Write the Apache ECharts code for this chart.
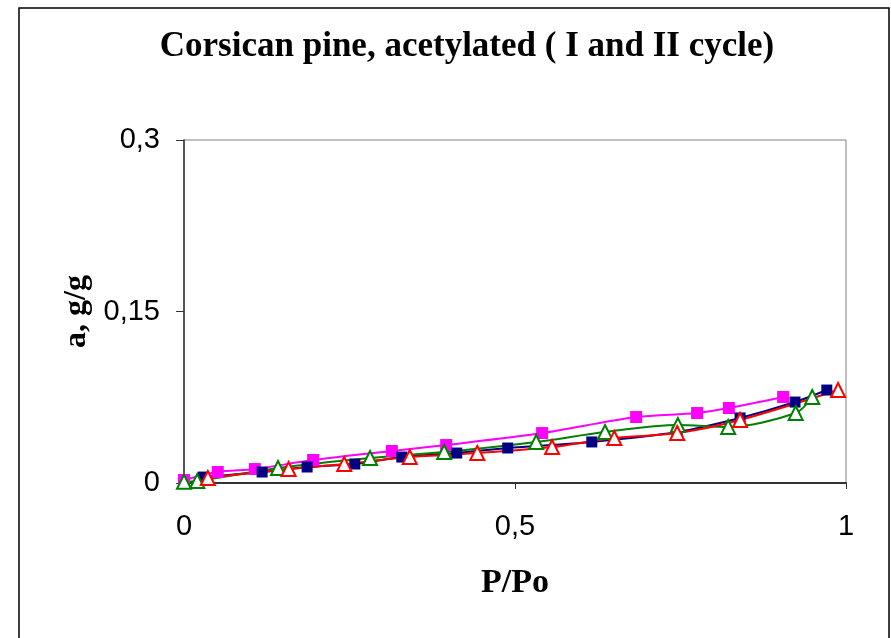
<!DOCTYPE html>
<html>
<head>
<meta charset="utf-8">
<script src="https://cdn.jsdelivr.net/npm/echarts@6/dist/echarts.min.js"></script>
<style>html,body{margin:0;padding:0;background:#fff;}#c{width:891px;height:638px;}</style>
</head>
<body>
<div id="c"></div>
<script>
// Series data: [P/Po, a g/g]
var seriesNavy = [[0.029,0.0052],[0.118,0.0096],[0.186,0.014],[0.258,0.0166],[0.329,0.0227],[0.412,0.0262],[0.489,0.0306],[0.616,0.0359],[0.745,0.0446],[0.840,0.0569],[0.923,0.0708],[0.971,0.0813]];
var seriesMagenta = [[0.0,0.0026],[0.051,0.0096],[0.107,0.0122],[0.195,0.0201],[0.314,0.028],[0.396,0.0332],[0.541,0.0437],[0.683,0.0577],[0.775,0.0612],[0.823,0.0656],[0.905,0.0752]];
var seriesRed = [[0.036,0.0044],[0.158,0.0122],[0.242,0.0166],[0.341,0.0227],[0.443,0.0262],[0.556,0.0315],[0.650,0.0394],[0.745,0.0437],[0.840,0.0551],[0.988,0.0813]];
var seriesGreen = [[0.0,0.001],[0.020,0.0017],[0.142,0.0131],[0.281,0.0219],[0.393,0.0271],[0.532,0.0359],[0.636,0.0446],[0.746,0.0507],[0.822,0.049],[0.924,0.0612],[0.949,0.0752]];
var xTicks = [0, 0.5, 1];
var yTicks = [0, 0.15, 0.3];

var chart = echarts.init(document.getElementById('c'));
function fmt(v){ return String(v).replace('.', ','); }
function line(name, data, color, symbol, size, filled){
  return {
    name: name, type: 'line', data: data, smooth: 0.3,
    symbol: symbol, symbolSize: size, showAllSymbol: true,
    lineStyle: {color: color, width: 2},
    itemStyle: filled ? {color: color, borderColor: color, borderWidth: 0}
                      : {color: '#ffffff', borderColor: color, borderWidth: 2},
    emphasis: {disabled: true}, animation: false, clip: false
  };
}
chart.setOption({
  backgroundColor: '#ffffff',
  animation: false,
  title: {
    text: 'Corsican pine, acetylated ( I and II cycle)',
    left: 462, top: 24, textAlign: 'center',
    textStyle: {fontFamily: 'Liberation Serif', fontWeight: 'bold', fontSize: 35, color: '#000'}
  },
  graphic: [{
    type: 'rect', shape: {x: 19, y: 8, width: 870, height: 640},
    style: {fill: 'none', stroke: '#000', lineWidth: 1.5}, silent: true, z: -1
  }],
  grid: {left: 184, right: 45, top: 140, bottom: 155, show: true, borderColor: '#808080', borderWidth: 1, backgroundColor: 'transparent'},
  xAxis: {
    type: 'value', min: 0, max: 1, interval: 0.5,
    name: 'P/Po', nameLocation: 'middle', nameGap: 83,
    nameTextStyle: {fontFamily: 'Liberation Serif', fontWeight: 'bold', fontSize: 34, color: '#000'},
    axisLine: {show: true, lineStyle: {color: '#333', width: 2}},
    axisTick: {show: true, inside: false, length: 6, lineStyle: {color: '#333'}},
    axisLabel: {formatter: function(v){return fmt(v);}, fontFamily: 'Liberation Sans', fontSize: 29, color: '#000', margin: 29},
    splitLine: {show: false}
  },
  yAxis: {
    type: 'value', min: 0, max: 0.3, interval: 0.15,
    name: 'a, g/g', nameLocation: 'middle', nameGap: 90, nameRotate: 90,
    nameTextStyle: {fontFamily: 'Liberation Serif', fontWeight: 'bold', fontSize: 32, color: '#000'},
    axisLine: {show: true, lineStyle: {color: '#333', width: 1.5}},
    axisTick: {show: true, inside: false, length: 8, lineStyle: {color: '#333'}},
    axisLabel: {formatter: function(v){return fmt(v);}, fontFamily: 'Liberation Sans', fontSize: 29, color: '#000', margin: 24},
    splitLine: {show: false}
  },
  series: [
    line('II cycle desorption', seriesMagenta, '#FF00FF', 'rect', 12, true),
    line('I cycle adsorption', seriesNavy, '#000080', 'rect', 11, true),
    line('II cycle adsorption', seriesGreen, '#008000', 'triangle', 14, false),
    line('I cycle desorption', seriesRed, '#FF0000', 'triangle', 14, false)
  ]
});
</script>
</body>
</html>
